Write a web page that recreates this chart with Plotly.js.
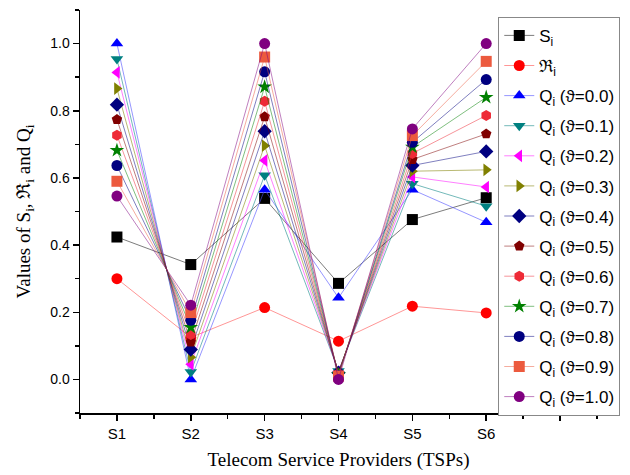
<!DOCTYPE html>
<html>
<head>
<meta charset="utf-8">
<script src="https://cdn.plot.ly/plotly-3.0.1.min.js"></script>
<style>html,body{margin:0;padding:0;background:#fff;}#chart{width:630px;height:475px;}</style>
</head>
<body>
<div id="chart"></div>
<script>
// ---- data ----
const providers = ['S1', 'S2', 'S3', 'S4', 'S5', 'S6'];
const xPos = [1, 2, 3, 4, 5, 6];
const axisTickVals = [1, 2, 3, 4, 5, 6, 7];
const axisTickText = ['S1', 'S2', 'S3', 'S4', 'S5', 'S6', ''];
const S = [0.424, 0.342, 0.539, 0.286, 0.476, 0.541];
const R = [0.300, 0.125, 0.214, 0.114, 0.218, 0.198];
const Q00 = [1.000, 0.000, 0.565, 0.243, 0.565, 0.468];
const Q01 = [0.954, 0.022, 0.608, 0.025, 0.583, 0.516];
const Q02 = [0.914, 0.045, 0.652, 0.024, 0.603, 0.573];
const Q03 = [0.866, 0.066, 0.696, 0.022, 0.620, 0.624];
const Q04 = [0.818, 0.089, 0.739, 0.020, 0.637, 0.679];
const Q05 = [0.774, 0.111, 0.782, 0.018, 0.655, 0.731];
const Q06 = [0.727, 0.134, 0.828, 0.016, 0.673, 0.786];
const Q07 = [0.682, 0.155, 0.871, 0.014, 0.692, 0.840];
const Q08 = [0.637, 0.176, 0.916, 0.012, 0.706, 0.893];
const Q09 = [0.590, 0.199, 0.960, 0.010, 0.726, 0.947];
const Q10 = [0.546, 0.221, 1.000, 0.000, 0.746, 1.000];
const thetaLabels = ['0.0', '0.1', '0.2', '0.3', '0.4', '0.5', '0.6', '0.7', '0.8', '0.9', '1.0'];

// ---- styles ----
const series = [
  {name: 'S<sub>i</sub>', y: S, color: '#000000', line: 'rgba(80,80,80,0.75)', symbol: 'square'},
  {name: 'ℜ<sub>i</sub>', y: R, color: '#ff0000', line: 'rgba(255,80,80,0.6)', symbol: 'circle'}
];
const qData = [Q00, Q01, Q02, Q03, Q04, Q05, Q06, Q07, Q08, Q09, Q10];
const qColors = ['#0000ff', '#008080', '#ff00ff', '#808000', '#000080', '#800000', '#ee2a36', '#008000', '#000080', '#ec5a3e', '#800080'];
const qLines = ['rgba(80,80,255,0.6)', 'rgba(0,128,128,0.55)', 'rgba(255,0,255,0.5)', 'rgba(128,128,0,0.55)', 'rgba(0,0,128,0.5)', 'rgba(128,0,0,0.5)', 'rgba(238,42,54,0.5)', 'rgba(0,128,0,0.5)', 'rgba(0,0,128,0.5)', 'rgba(236,90,62,0.5)', 'rgba(128,0,128,0.5)'];
const qSymbols = ['triangle-up', 'triangle-down', 'triangle-left', 'triangle-right', 'diamond', 'pentagon', 'hexagon', 'star', 'circle', 'square', 'circle'];
qData.forEach((q, i) => {
  series.push({name: 'Q<sub>i</sub> (ϑ=' + thetaLabels[i] + ')', y: q, color: qColors[i], line: qLines[i], symbol: qSymbols[i]});
});

const traces = series.map((s, i) => ({
  type: 'scatter',
  mode: 'lines+markers',
  x: xPos,
  y: s.y,
  name: s.name,
  legendgroup: 'g' + i,
  line: {color: s.line, width: 1},
  marker: {color: s.color, symbol: s.symbol, size: 11, line: {width: 0}}
}));

const layout = {
  width: 630,
  height: 475,
  margin: {l: 80, r: 31, t: 10, b: 62},
  paper_bgcolor: '#ffffff',
  plot_bgcolor: '#ffffff',
  font: {family: 'Liberation Sans, Arial, sans-serif', color: '#000'},
  showlegend: true,
  legend: {
    x: 0.809, xanchor: 'left', y: 0.983, yanchor: 'top',
    bgcolor: '#ffffff', bordercolor: '#888888', borderwidth: 1,
    font: {size: 17, family: 'Liberation Sans, Arial, sans-serif', color: '#000'},
    itemwidth: 30, traceorder: 'grouped', tracegroupgap: 5
  },
  xaxis: {
    range: [0.5, 7.5],
    tickmode: 'array', tickvals: axisTickVals, ticktext: axisTickText,
    ticks: 'outside', ticklen: 6, tickwidth: 1.5, tickcolor: '#000',
    minor: {tickmode: 'linear', tick0: 0.5, dtick: 0.5, ticks: 'outside', ticklen: 4, tickwidth: 1.5, tickcolor: '#000'},
    showline: true, linecolor: '#000', linewidth: 1.5,
    showgrid: false, zeroline: false,
    tickfont: {size: 15},
    title: {text: 'Telecom Service Providers (TSPs)', font: {family: 'Liberation Serif, Times New Roman, serif', size: 19}, standoff: 12}
  },
  yaxis: {
    range: [-0.1, 1.1],
    tickmode: 'linear', tick0: 0, dtick: 0.2, tickformat: '.1f',
    ticks: 'outside', ticklen: 6, tickwidth: 1.5, tickcolor: '#000',
    minor: {tickmode: 'linear', tick0: 0, dtick: 0.1, ticks: 'outside', ticklen: 4, tickwidth: 1.5, tickcolor: '#000'},
    showline: true, linecolor: '#000', linewidth: 1.5,
    showgrid: false, zeroline: false,
    tickfont: {size: 14},
    title: {text: 'Values of S<sub>i</sub>, ℜ<sub>i</sub> and Q<sub>i</sub>', font: {family: 'Liberation Serif, Times New Roman, serif', size: 19}, standoff: 14}
  }
};

Plotly.newPlot('chart', traces, layout, {displayModeBar: false, staticPlot: true});
</script>
</body>
</html>
